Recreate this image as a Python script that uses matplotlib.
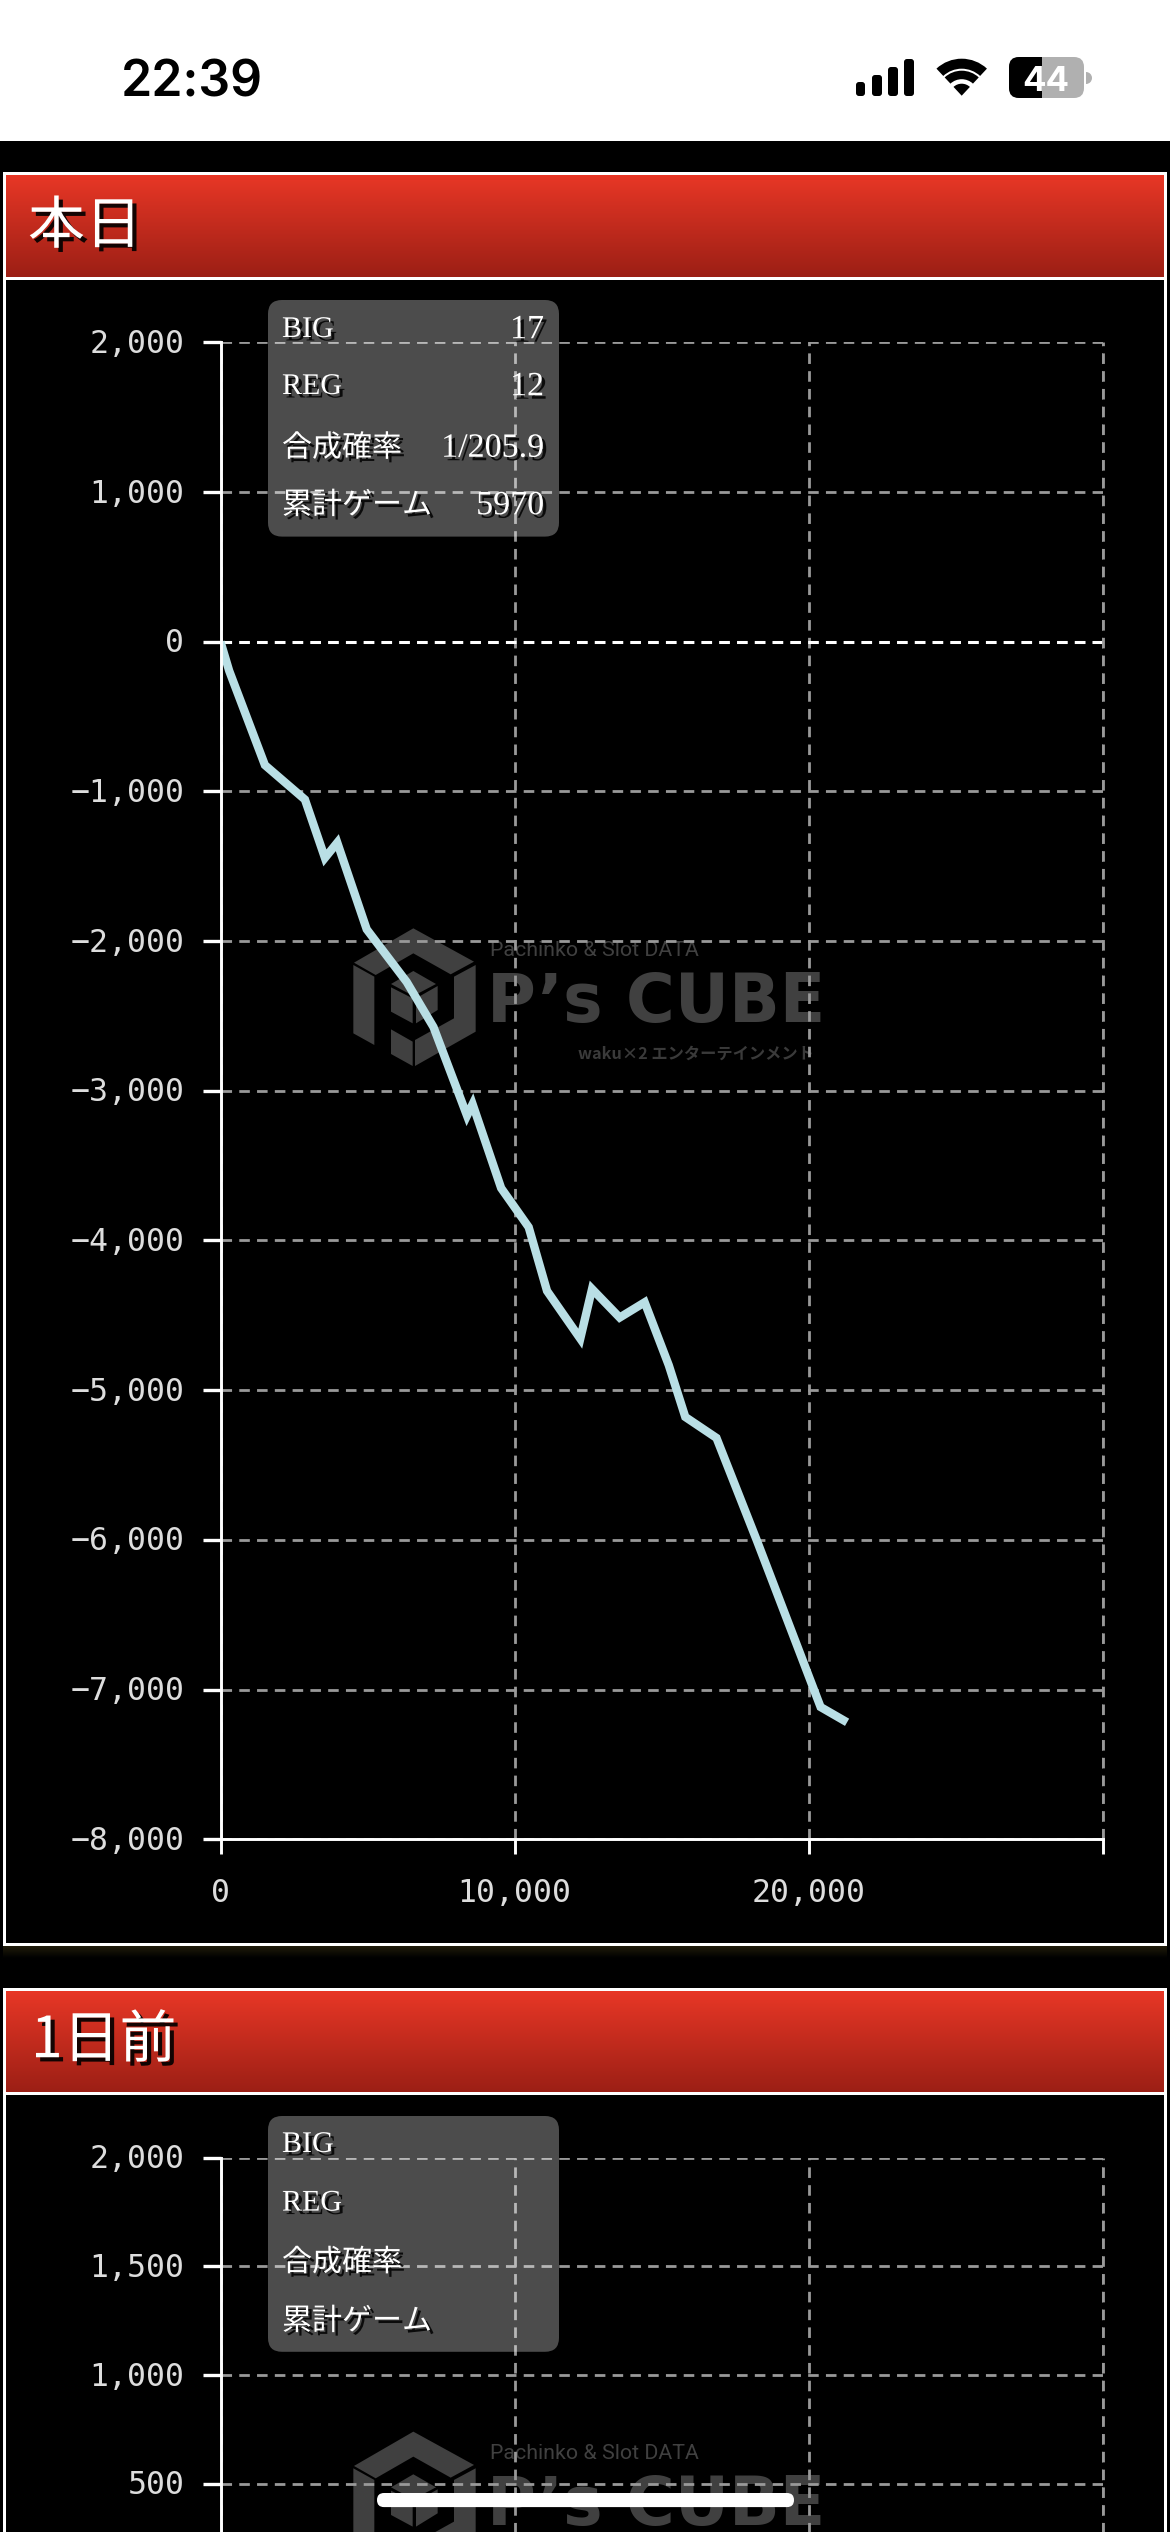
import matplotlib
matplotlib.use("Agg")
import numpy as np
import matplotlib.pyplot as plt
import matplotlib.patheffects as pe
from matplotlib.patches import Rectangle, FancyBboxPatch, Wedge, Polygon
from matplotlib.transforms import ScaledTranslation

W, H = 1170, 2532
plt.rcParams['lines.scale_dashes'] = False
plt.rcParams['font.family'] = ['Liberation Serif', 'Noto Sans CJK JP', 'DejaVu Sans']

# ---------- data ----------
games = [0, 295, 1510, 2870, 3550, 3970, 4970, 6330, 7240, 8380, 8570, 9540, 10476,
         11100, 12230, 12630, 13570, 14420, 15240, 15800, 16860, 18240, 20400, 21300]
diff = [0, -194, -824, -1054, -1444, -1342, -1921, -2273, -2574, -3166, -3089, -3650, -3911,
        -4337, -4656, -4324, -4515, -4413, -4834, -5179, -5319, -6008, -7117, -7219]
x_ticks = [0, 10000, 20000, 30000]
x_labels = ['0', '10,000', '20,000', '']
y_ticks_today = [2000, 1000, 0, -1000, -2000, -3000, -4000, -5000, -6000, -7000, -8000]
y_ticks_prev = [2000, 1500, 1000, 500]
titles = ['本日', '1日前']
info_labels = ['BIG', 'REG', '合成確率', '累計ゲーム']
info_today = ['17', '12', '1/205.9', '5970']
info_prev = ['', '', '', '']

GRID = '#999999'
TICKTXT = '#dddddd'
LINE = '#b9dfe5'
WM = '#404040'

fig = plt.figure(figsize=(W / 100, H / 100), dpi=100, facecolor='black')


def pix_axes(z):
    a = fig.add_axes([0, 0, 1, 1], zorder=z)
    a.set_xlim(0, W)
    a.set_ylim(H, 0)
    a.axis('off')
    a.patch.set_alpha(0)
    return a


bg = pix_axes(0)
fg = pix_axes(5)

# ---------- status bar ----------
bg.add_patch(Rectangle((0, 0), W, 141, fc='white', ec='none'))
fg.text(121, 78, '22:39', family=['Inter', 'DejaVu Sans'], weight='semibold', fontsize=36,
        color='black', ha='left', va='center_baseline')
for x0, x1, y0 in [(856, 865, 82), (872, 882, 75), (888, 898, 67), (904, 914, 59)]:
    fg.add_patch(FancyBboxPatch((x0 + 3, y0 + 3), x1 - x0 - 6, 96 - y0 - 6,
                                boxstyle='round,pad=3,rounding_size=3', fc='black', ec='none'))
for r, w in [(37, 10), (25, 8.5), (12, 12)]:
    fg.add_patch(Wedge((961.7, 95.7), r, -133, -47, width=w, fc='black', ec='none'))
bat = FancyBboxPatch((1019, 67), 55, 21, boxstyle='round,pad=10,rounding_size=10',
                     fc='#b0b0b0', ec='none')
fg.add_patch(bat)
bat2 = FancyBboxPatch((1019, 67), 55, 21, boxstyle='round,pad=10,rounding_size=10',
                      fc='black', ec='none')
fg.add_patch(bat2)
bat2.set_clip_path(Rectangle((1000, 50), 42, 60, transform=fg.transData))
fg.add_patch(Wedge((1086, 78), 6, -90, 90, fc='#b0b0b0', ec='none'))
fg.text(1046, 78.5, '44', family=['Inter', 'DejaVu Sans'], weight='bold', fontsize=25,
        color='white', ha='center', va='center_baseline')


# ---------- panels ----------
def panel(top, bottom, head_bot, title, title_x, title_y):
    bg.add_patch(Rectangle((3, top), 1164, bottom - top, fc='white', ec='none'))
    bg.add_patch(Rectangle((6, top + 3), 1158, bottom - top - 6, fc='black', ec='none'))
    grad = np.linspace(0, 1, 256)[:, None, None]
    c0, c1 = np.array([232, 55, 38]) / 255, np.array([156, 31, 21]) / 255
    bg.imshow(c0 + (c1 - c0) * grad, extent=(6, 1164, head_bot, top + 3),
              aspect='auto', interpolation='bilinear', zorder=1)
    bg.add_patch(Rectangle((6, head_bot), 1158, 3, fc='white', ec='none', zorder=1.1))
    bg.set_xlim(0, W)
    bg.set_ylim(H, 0)
    fg.text(title_x, title_y, title, family=['Noto Sans CJK JP', 'DejaVu Sans'], fontsize=41,
            color='white', ha='left', va='center',
            path_effects=[pe.withSimplePatchShadow(offset=(3, -3), alpha=0.9, shadow_rgbFace='black')])


panel(172, 1946, 277, titles[0], 28, 227)
panel(1988, 2640, 2092, titles[1], 31, 2041)

# soft glow under first panel
glow = np.linspace(1, 0, 64)[:, None, None] * np.array([32, 28, 10]) / 255
bg.imshow(glow, extent=(3, 1167, 1958, 1946), aspect='auto', zorder=0.5)
bg.set_xlim(0, W)
bg.set_ylim(H, 0)


# ---------- watermark ----------
def watermark(dy, with_credit):
    def z(p):
        return [(330 + a / 3, 910 + b / 3 + dy) for a, b in p]
    shapes = [
        [(72, 158), (250, 55), (432, 155), (362, 193), (250, 130), (137, 195)],
        [(70, 165), (133, 200), (133, 405), (70, 370)],
        [(437, 165), (437, 365), (255, 468), (255, 390), (372, 325), (372, 200)],
        [(250, 183), (318, 222), (250, 258), (183, 222)],
        [(183, 232), (248, 265), (248, 340), (183, 305)],
        [(258, 265), (323, 228), (323, 300), (258, 340)],
        [(183, 358), (248, 395), (248, 468), (183, 432)],
    ]
    for s in shapes:
        bg.add_patch(Polygon(z(s), closed=True, fc=WM, ec='none', zorder=2))
    bg.text(490, 950 + dy, 'Pachinko & Slot DATA', family=['Roboto', 'DejaVu Sans'], fontsize=15.4,
            color=WM, ha='left', va='center', zorder=2)
    bg.text(487, 1003 + dy, 'P’s CUBE', family=['DejaVu Sans'], weight='bold', fontsize=48,
            color=WM, ha='left', va='center', zorder=2)
    if with_credit:
        bg.text(578, 1054 + dy, 'waku×2 エンターテインメント', family=['Noto Sans CJK JP', 'DejaVu Sans'],
                weight='bold', fontsize=11.7, color='#3a3a3a', ha='left', va='center', zorder=2)


watermark(0, True)
watermark(1503.3, False)


# ---------- charts ----------
def chart(y_top, y_bot, ylim, yticks, xlabels):
    ax = fig.add_axes([220.5 / W, 1 - y_bot / H, (1103 - 220.5) / W, (y_bot - y_top) / H], zorder=2)
    ax.patch.set_alpha(0)
    ax.set_xlim(0, 30000)
    ax.set_ylim(*ylim)
    ax.set_xticks(x_ticks)
    ax.set_xticklabels(xlabels)
    ax.set_yticks(yticks)
    ax.set_yticklabels([f'{v:,}'.replace('-', '−') for v in yticks])
    for s in ('top', 'right'):
        ax.spines[s].set_visible(False)
    for s in ('left', 'bottom'):
        ax.spines[s].set_color('white')
        ax.spines[s].set_linewidth(2.1)
    ax.tick_params(axis='y', length=13, width=2.4, color='white', pad=13,
                   labelcolor=TICKTXT, labelsize=22.7)
    ax.tick_params(axis='x', length=11, width=2.1, color='white', pad=17,
                   labelcolor=TICKTXT, labelsize=22.7)
    shift = ScaledTranslation(0, 1.5 / 100, fig.dpi_scale_trans)
    for t in ax.get_yticklabels():
        t.set_family(['DejaVu Sans Mono'])
        t.set_transform(t.get_transform() + shift)
    for t in ax.get_xticklabels():
        t.set_family(['DejaVu Sans Mono'])
    dash = (0, (7.6, 5.2))
    ax.set_axisbelow(True)
    ax.grid(True, color=GRID, lw=2.0, ls=dash)
    for v in x_ticks[-1:]:
        ax.axvline(v, color=GRID, lw=2.0, ls=dash, clip_on=False)
    return ax


ax1 = chart(342.4, 1839.2, (-8000, 2000), y_ticks_today, x_labels)
ax1.axhline(0, color='white', lw=2.2, ls=(0, (7.6, 5.2)), zorder=1.5)
ax1.plot(games, diff, color=LINE, lw=6.0, solid_joinstyle='miter', solid_capstyle='butt', zorder=2.2)

ax2 = chart(2157.6, 2592.8, (0, 2000), y_ticks_prev, ['', '', '', ''])
ax2.tick_params(axis='x', length=0)


# ---------- info boxes ----------
def info(y0, y1, rows, values):
    fg.add_patch(FancyBboxPatch((268 + 14, y0 + 14), 291 - 28, y1 - y0 - 28,
                                boxstyle='round,pad=14,rounding_size=14',
                                fc='white', alpha=0.3, ec='none'))
    eff = [pe.withSimplePatchShadow(offset=(2.5, -2.5), alpha=0.85, shadow_rgbFace='black')]
    for lab, val, yy in zip(info_labels, values, rows):
        fg.text(282, yy + 3, lab, fontsize=21.6, color='white', ha='left', va='center', path_effects=eff)
        if val:
            fg.text(544, yy + 3, val, fontsize=24.5, color='white', ha='right', va='center', path_effects=eff)


info(300, 536.6, [327, 384, 445.5, 503], info_today)
info(2116, 2351.8, [2142, 2200.6, 2260, 2319], info_prev)

# ---------- home indicator ----------
fg.add_patch(FancyBboxPatch((384, 2500), 403, 0.1, boxstyle='round,pad=7,rounding_size=7',
                            fc='white', ec='none'))

fig.savefig('out.png', dpi=100, facecolor='black')
